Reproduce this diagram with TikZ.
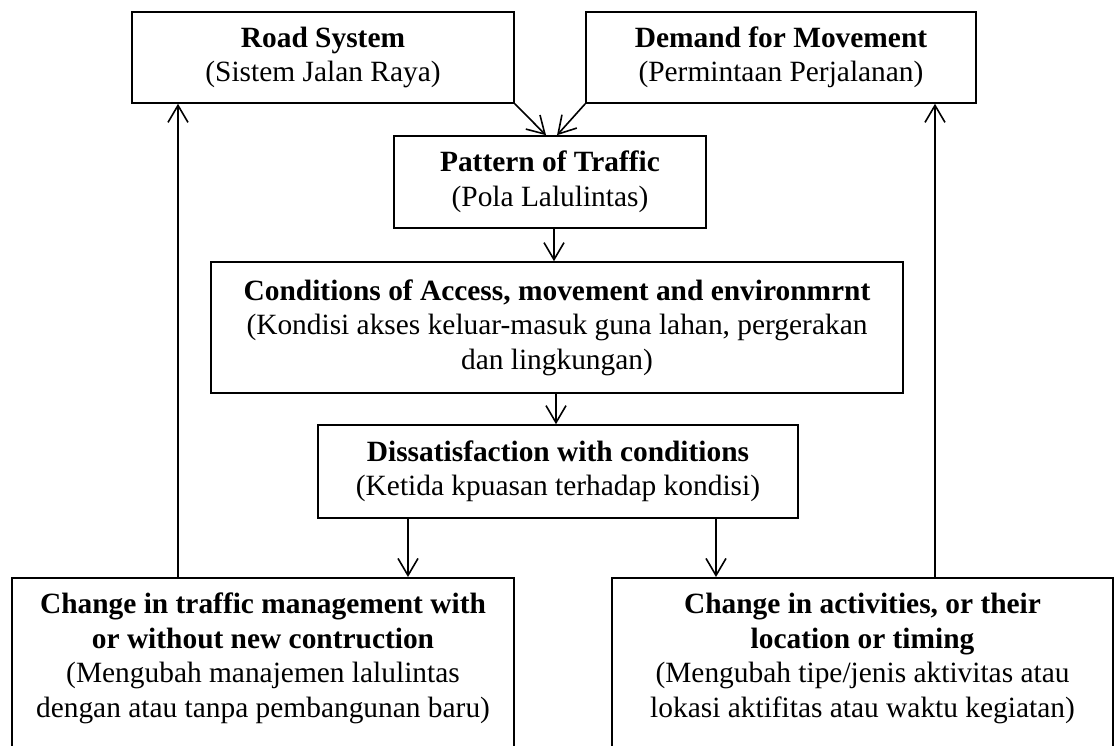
\documentclass[tikz,border=0pt]{standalone}
\usepackage{fontspec}
\setmainfont{Liberation Serif}
\usetikzlibrary{arrows.meta}
\begin{document}
\begin{tikzpicture}[x=1pt,y=-1pt,
  box/.style={draw, line width=1.6pt, rectangle, inner sep=0pt, align=center, font=\fontsize{29.4}{34.5}\selectfont},
  txt/.style={inner sep=0pt, align=center, font=\fontsize{29.4}{34.5}\selectfont},
  arr/.style={line width=1.6pt, -{Straight Barb[length=17pt,width=20pt,line width=1.6pt]}}]
\path[use as bounding box, clip] (0,0) rectangle (1114,745);
\fill[white] (0,0) rectangle (1114,745);

\node[box, minimum width=382, minimum height=91] (road) at (323,57.5)
  {\textbf{Road System}\\(Sistem Jalan Raya)};
\node[box, minimum width=390, minimum height=91] (demand) at (781,57.5)
  {\textbf{Demand for Movement}\\(Permintaan Perjalanan)};
\node[box, minimum width=312, minimum height=92] (pattern) at (550,182)
  {\textbf{Pattern of Traffic}\\(Pola Lalulintas)};
\node[box, minimum width=692, minimum height=131] (cond) at (557,327.5)
  {\textbf{Conditions of Access, movement and environmrnt}\\(Kondisi akses keluar-masuk guna lahan, pergerakan\\dan lingkungan)};
\node[box, minimum width=480, minimum height=93] (dis) at (558,471.5)
  {\textbf{Dissatisfaction with conditions}\\(Ketida kpuasan terhadap kondisi)};

\node[box, minimum width=502, minimum height=190, anchor=north] (lbox) at (263,577) {};
\node[txt] (ltext) at ([yshift=-81.5pt]lbox.north)
  {\textbf{Change in traffic management with}\\\textbf{or without new contruction}\\(Mengubah manajemen lalulintas\\dengan atau tanpa pembangunan baru)};
\node[box, minimum width=501, minimum height=190, anchor=north] (rbox) at (862.5,577) {};
\node[txt] (rtext) at ([yshift=-81.5pt]rbox.north)
  {\textbf{Change in activities, or their}\\\textbf{location or timing}\\(Mengubah tipe/jenis aktivitas atau\\lokasi aktifitas atau waktu kegiatan)};

\draw[arr] (road.south east) -- ([xshift=-4pt]pattern.north);
\draw[arr] (demand.south west) -- ([xshift=7pt]pattern.north);
\draw[arr] ([xshift=4pt]pattern.south) -- ([xshift=4pt]pattern.south |- cond.north);
\draw[arr] ([xshift=-1pt]cond.south) -- ([xshift=-1pt]cond.south |- dis.north);
\draw[arr] ([xshift=-150pt]dis.south) -- ([xshift=-150pt]dis.south |- lbox.north);
\draw[arr] ([xshift=158pt]dis.south) -- ([xshift=158pt]dis.south |- rbox.north);
\draw[arr] ([xshift=-85pt]lbox.north) -- ([xshift=-85pt]lbox.north |- road.south);
\draw[arr] ([xshift=72.5pt]rbox.north) -- ([xshift=72.5pt]rbox.north |- demand.south);
\end{tikzpicture}
\end{document}
